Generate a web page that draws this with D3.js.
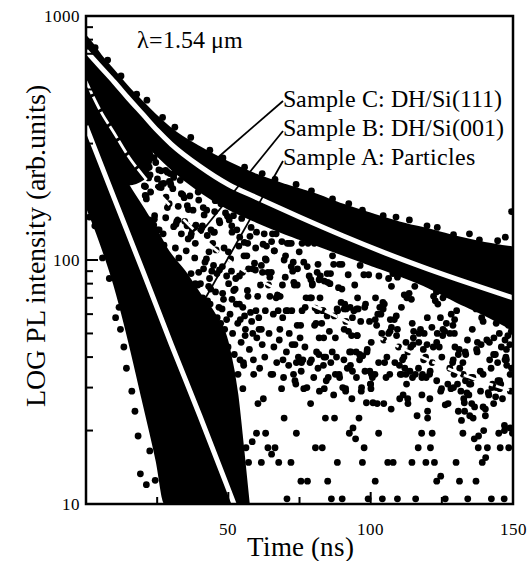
<!DOCTYPE html>
<html>
<head>
<meta charset="utf-8">
<script src="https://cdn.jsdelivr.net/npm/d3@7"></script>
<style>
  @font-face {
    font-family: "PlotSerif";
    src: local("Liberation Serif"), local("LiberationSerif-Regular"), local("LiberationSerif"),
         local("DejaVu Serif"), local("DejaVuSerif"), local("Times New Roman");
  }
  body { margin: 0; background: #fff; }
  svg text { font-family: "PlotSerif", "Liberation Serif", "DejaVu Serif", serif; }
</style>
</head>
<body>
<svg></svg>
<script>
// ---- data (time in ns, PL intensity in arb. units) ----

// Sample C: dense band of points (upper / lower edge of the cloud)
const cTime = [0, 2, 5, 10, 15, 20, 25, 30, 40, 50, 60, 70, 80, 90, 100, 110, 120, 130, 140, 150];
const cHigh = [820, 770, 690, 590, 505, 440, 385, 342, 288, 250, 222, 202, 186, 168, 154, 142, 133, 124, 117, 112];
const cLow  = [560, 540, 500, 430, 365, 310, 270, 238, 192, 163, 144, 129, 117, 106, 96, 87, 78, 68, 60, 52];
// loose points poking out of the top of the C cloud
const cDots = [[3.2,742],[7.6,660],[12.3,568],[17.8,478],[21.4,452],[26.9,384],[31.2,350],[36.8,318],[43.5,282],
  [48.1,262],[55.7,240],[61.9,226],[66.4,214],[73.8,204],[79.2,192],[86.6,178],[92.3,170],[97.1,160],
  [104.4,152],[108.9,150],[113.6,146],[119.8,138],[123.4,136],[129.1,127],[134.7,128],[138.2,121],
  [144.6,120],[147.3,124],[149.5,158]];

// Sample B: dense part at short times, then scattered points
const bTime = [0, 5, 10, 15, 20, 23];
const bHigh = [560, 500, 430, 365, 310, 275];
const bLow  = [300, 260, 230, 205, 215, 260];
const bDots = [
  [15.2,278],[15.9,183],[16.2,312],[16.8,165],[17.2,224],[17.8,230],[18.0,328],[18.1,305],[18.5,318],[18.9,295],[19.5,241],[20.0,335],
  [20.5,268],[20.8,184],[20.9,200],[21.2,178],[21.3,236],[22.0,217],[22.2,240],[22.7,190],[23.4,262],[24.0,147],[24.1,152],[24.5,251],
  [25.1,215],[25.4,199],[25.7,133],[26.4,232],[26.5,205],[27.1,128],[27.4,115],[28.0,149],[28.1,181],[28.6,164],[29.2,170],[29.5,226],
  [29.8,203],[29.9,96],[30.5,196],[30.8,218],[31.0,82],[31.4,112],[31.6,140],[32.3,146],[33.1,212],[33.5,187],[34.3,86],[34.5,180],
  [34.6,81],[35.2,109],[35.6,167],[35.9,122],[36.5,183],[37.0,128],[37.6,160],[38.2,136],[38.4,117],[38.9,70],[39.4,190],[39.6,176],
  [39.7,67],[40.2,80],[40.3,132],[40.9,138],[41.3,92],[41.8,98],[42.4,160],[42.6,126],[43.1,78],[43.4,84],[43.8,76],[44.2,90],
  [44.5,117],[44.8,95],[45.1,130],[45.4,175],[46.0,88],[46.7,64],[46.8,145],[47.4,170],[47.9,94],[48.3,69],[49.0,156],[49.4,57],
  [49.7,151],[50.1,80],[50.3,146],[50.8,101],[51.2,138],[51.3,69],[51.8,152],[52.4,76],[52.6,84],[53.0,133],[53.7,114],[53.9,66],
  [54.2,57],[54.7,148],[55.0,89],[55.6,118],[55.7,59],[55.9,49],[56.5,104],[56.9,71],[57.1,92],[57.6,125],[58.0,136],[58.6,50],
  [59.2,97],[59.7,62],[59.9,130],
  [60.3,71],[60.8,52],[61.3,79],[61.6,52],[62.0,89],[62.6,128],[63.0,62],[63.3,100],[63.9,89],[64.6,71],[65.1,89],[65.2,119],
  [65.5,128],[66.2,109],[66.8,128],[67.3,71],[67.5,62],[68.2,71],[68.8,119],[69.0,79],[69.6,100],[70.3,62],
  [70.7,117],[70.8,62],[71.4,117],[72.1,117],[72.3,62],[72.8,98],[73.2,79],[73.4,45],[73.9,38],[74.2,79],[74.9,108],
  [75.4,54],[75.7,38],[75.9,117],[76.5,98],[77.3,70],[78.0,117],[78.7,70],[79.2,70],[79.5,79],[80.2,117],[80.3,54],
  [80.8,55],[81.3,62],[81.5,96],[81.9,48],[82.2,70],[82.8,55],[83.1,62],[83.5,48],[83.6,40],[84.2,40],[84.7,88],
  [85.1,33],[85.7,80],[85.9,88],[86.6,104],[87.0,96],[87.6,48],[88.0,40],[88.4,62],[89.0,96],[89.1,33],[89.9,96],
  [90.7,63],[90.9,66],[91.2,29],[91.4,63],[92.1,87],[92.6,42],[93.1,42],[93.3,49],[93.6,35],[94.4,79],[94.9,42],
  [95.1,63],[95.3,49],[95.6,63],[96.3,95],[96.5,56],[96.7,29],[97.6,87],[98.0,35],[98.7,42],[99.3,87],[99.6,56],
  [100.0,31],[100.6,33],[100.8,26],[101.6,57],[102.1,54],[102.5,60],[102.9,86],[103.2,64],[103.9,50],[104.6,47],[104.8,66],
  [104.9,38],[105.7,40],[106.3,84],[106.8,51],[107.3,78],[107.8,88],[108.3,57],[109.1,49],[109.4,85],[109.8,44],[110.2,27],
  [110.8,64],[111.4,28],[111.8,72],[112.4,34],[112.7,70],[113.0,27],[113.5,73],[113.8,35],[114.3,69],[114.9,45],[115.1,51],
  [115.5,78],[116.3,23],[116.9,46],[117.5,52],[118.0,33],[118.6,39],[118.8,50],[119.3,40],[119.9,58],[120.0,24],[120.7,34],
  [120.9,35],[121.5,53],[122.1,71],[122.7,68],[123.1,74],[123.2,46],[123.6,66],[124.1,44],[124.5,58],[125.0,40],[125.4,70],
  [126.0,51],[126.6,55],[127.3,72],[127.8,50],[128.3,60],[128.9,54],[129.1,30],[129.5,57],[130.2,62],[130.5,31],[130.8,41],
  [131.3,36],[131.9,22],[132.4,38],[132.7,27],[133.0,24],[133.3,32],[133.4,41],[134.0,47],[134.5,28],[135.2,31],[135.7,52],
  [135.9,33],[136.4,18.5],[137.0,63],[137.4,42],[137.9,19],[138.5,35],[139.0,58],[139.5,56],[139.7,20],[140.3,23],[140.8,47],
  [141.5,28],[141.7,46],[142.3,36],[142.6,30],[143.3,48],[143.8,41],[144.1,55],[144.7,32],[145.2,50],[145.5,17],[145.9,44],
  [146.3,27],[147.0,20],[147.2,47],[147.5,40],[147.7,43],[148.2,49],[148.4,54],[148.9,45],[149.1,29],[149.4,51],[149.7,57]];
// more B points close to its fitted curve
const bNear = [
  [19.9,279],[20.5,201],[21.1,183],[22.1,146],[22.5,223],[23.8,139],[23.9,263],[25.1,133],[25.6,234],[26.4,198],
  [27.3,206],[28.0,233],[28.6,229],[29.3,210],[29.6,208],[30.8,137],[31.1,227],[31.9,144],[32.4,166],[33.5,128],
  [34.0,185],[34.7,144],[35.5,138],[36.0,161],[36.8,125],[37.3,134],[38.2,102],[38.6,139],[39.6,89],[40.6,135],
  [41.2,164],[41.5,153],[42.3,101],[43.2,108],[43.9,133],[44.8,130],[45.2,158],[45.7,110],[46.9,91],[47.0,142],
  [48.0,73],[48.5,112],[49.4,86],[50.0,108],[51.1,90],[51.3,130],[51.9,75],[52.8,66],[53.9,86],[54.0,124],
  [55.1,64],[55.5,104],[56.7,75],[56.8,117],[57.8,61],[58.5,92],[59.5,91],[59.6,112],[60.7,58],[61.6,95],
  [62.2,116],[63.0,101],[63.4,114],[64.1,79],[64.6,85],[65.8,60],[66.1,109],[66.8,70],[67.3,72],[68.1,52],
  [69.1,58],[70.0,85],[70.1,104],[71.4,50],[72.1,94],[72.6,90],[73.0,81],[74.2,54],[74.3,92],[75.2,48],
  [75.9,62],[77.0,64],[77.7,94],[78.4,86],[79.0,83],[79.5,80],[80.5,63.5],[81.2,89],[81.9,83],[82.3,86],
  [83.3,62],[83.7,82],[84.7,59],[84.9,81],[85.5,51],[86.5,42],[87.2,59],[88.2,63],[88.7,77],[89.6,67],
  [89.9,76],[90.7,52],[91.3,56],[92.2,51],[92.8,64],[93.6,58],[94.1,62],[95.2,49],[95.4,70],[96.1,41],
  [97.2,40.5],[97.9,64],[98.2,66],[98.8,43],[99.7,35],[100.2,46],[101.5,34],[101.7,70],[102.8,38],[103.6,60],
  [104.3,67],[104.4,63],[105.4,33],[106.3,50],[106.9,57],[107.3,53],[108.5,38],[109.0,59],[109.4,52],[110.1,37],
  [110.9,34],[111.7,40],[112.4,46],[113.1,42],[114.1,44],[114.6,55],[115.0,48],[115.7,34],[116.8,36],[117.0,50],
  [118.0,28],[118.5,43],[119.5,33],[119.8,45],[120.8,27],[121.6,38],[122.0,44],[123.2,32],[123.4,50],[124.6,29],
  [125.3,49],[125.4,52],[126.2,25.5],[127.1,31],[127.8,36],[128.8,38],[129.4,50],[129.6,44],[130.8,24],[131.1,43],
  [131.7,29],[132.9,26],[133.2,42],[133.8,28.5],[134.8,23],[135.3,33],[136.5,25],[137.2,43],[137.5,46],[138.6,29],
  [138.8,45],[139.5,25],[140.3,24.5],[141.3,28.6],[141.8,39],[142.8,31],[143.2,41],[144.1,30],[144.6,38],[145.3,32],
  [145.7,31],[147.0,21],[147.7,39],[147.8,37],[149.0,20.5],[149.5,36]];
// B points in the lower half of its spread
const bLowDots = [
  [35.8,72],[36.9,88],[38.1,64],[39.3,79],[40.1,58],[41.0,70],[41.9,62],[42.9,54],[43.6,66],[44.7,50],
  [45.5,74],[46.1,58],[47.2,48],[47.8,63],[48.7,52],[49.9,44],[50.6,60],[51.5,50],[52.1,41],[53.3,55],
  [54.5,46],[55.3,38],[56.0,52],[57.4,43],[58.2,56],[58.8,39],[60.0,48],[61.0,36],[61.9,45],[62.8,40],
  [64.3,50],[65.0,34],[66.0,44],[67.0,38],[67.9,47],[69.4,33],[70.4,42],[71.2,37],[72.4,45],[73.7,31],
  [74.6,40],[75.6,35],[76.9,44],[77.6,30],[78.7,38],[80.0,33],[81.0,42],[82.0,29],[83.4,37],[84.4,32],
  [86.0,38],[87.0,28],[88.9,34],[90.2,30],[91.8,36],[93.4,27],[95.0,33],[96.8,30],[98.5,26],[99.9,31]];

// Sample A: dense cloud, then the noisy tail near the floor
const aTime = [0, 5, 10, 15, 20, 25, 28, 35, 40, 45, 50, 53, 55, 57];
const aHigh = [430, 330, 255, 200, 162, 130, 112, 88, 72, 60, 44, 28, 17, 10];
const aLow  = [170, 120, 80, 48, 27, 15, 10, 10, 10, 10, 10, 10, 10, 10];
const aDots = [[1.2,150],[3.1,138],[5.8,102],[8.2,84],[10.4,58],[11.6,64],[12.1,52],[13.3,44],[14.2,36],[16.1,29],
  [17.2,24],[18.3,19],[19.1,13.3],[21.2,12],[22.4,16.5],[24.3,12.5],[32.6,102],[38.4,80],[42.7,68],[47.3,55],
  [44.5,12.4],[45.0,19.5],[46.3,13],[47.5,22.5],[47.7,39],[48.9,14.8],[49.7,25.8],[50.3,21.5],[51.4,17],[52.5,23.5],
  [53.4,34],[54.1,39],[55.1,29.7],[55.4,37],[56.2,17],[57.1,14.8],[58.4,18],[58.9,34],[59.9,19.5],[60.4,25.8],
  [61.6,14.8],[62.3,27],[63.1,19.5],[63.9,17],[65.2,16],[65.6,34],[66.4,17],[67.7,14.8],[68.7,29.7],[69.2,39],
  [69.6,22.5],[70.6,10.5],[72.0,14.8],[72.9,34],[73.4,32],[73.9,19.5],[75.5,12.4],[76.2,39],[76.5,29.7],[77.8,12.4],
  [78.9,25.8],[79.2,39],[80.6,17],[81.5,36],[81.8,41],[83.0,17],[83.7,29.7],[84.1,22.5],[84.9,12.4],[86.2,10.5],
  [87.3,22.5],[87.6,34],[88.3,14.8],[90.0,10.5],[90.6,39],[91.2,29.7],[92.5,19.5],[92.9,37],[93.8,20.5],[94.7,18.5],
  [95.9,22.5],[96.1,39],[97.1,14.8],[97.7,17],[99.1,10.5],[100.1,29.7],[100.3,34],[101.6,12.4],[102.3,25.8],[102.8,19.5],
  [104.1,10.5],[104.6,25.8],[106.0,14.8],[106.7,34],[107.2,24.5],[107.9,14.8],[109.4,10.5],[110.4,34],[111.2,39],[112.0,36],
  [112.6,31],[113.1,25.8],[114.5,14.8],[114.7,33],[115.8,10.5],[116.7,17],[117.9,19.5],[118.2,34],[119.4,14.8],[120.0,22.5],
  [121.0,17],[121.6,19.5],[122.4,14.8],[123.2,12.4],[124.6,13],[124.9,29.7],[126.2,10.5],[127.2,25.8],[128.2,29.7],[129.0,39],
  [129.3,34],[130.0,14.8],[131.2,12.4],[132.4,19.5],[132.5,34],[134.1,10.5],[134.7,31],[135.5,25.8],[136.0,22.5],[137.0,12.4],
  [137.8,17],[139.2,14.8],[139.5,34],[140.4,15.5],[141.0,17],[142.4,10.5],[143.2,25.8],[143.9,27.5],[145.0,19.5],[145.3,29.7],
  [146.9,10.5],[147.2,39],[148.5,17],[149.0,34],[149.8,19.5]];

// fitted decay curves (white lines)
const cFitT = [0, 5, 10, 15, 20, 25, 30, 40, 50, 60, 75, 90, 105, 120, 135, 150];
const cFitV = [720, 620, 535, 458, 395, 340, 298, 242, 204, 180, 150, 126, 107, 92, 80, 70];
const bFitT = [0, 5, 10, 15, 20, 30, 40, 50, 60, 70, 85, 100, 120, 135, 150];
const bFitV = [540, 410, 330, 265, 222, 165, 126, 100, 84, 73, 61, 50, 39, 33, 29];
const aFitT = [0, 10, 20, 30, 40, 50, 52];
const aFitV = [354, 178, 90, 45, 23, 11.5, 10];

const xMajor = [50, 100, 150];
const xMinor = [25, 75, 125];
const yMajor = [10, 100, 1000];

const labels = ['Sample C: DH/Si(111)', 'Sample B: DH/Si(001)', 'Sample A: Particles'];

// ---- layout ----
const width = 532, height = 561;
const svg = d3.select('svg')
    .attr('width', width)
    .attr('height', height);

const x = d3.scaleLinear().domain([0, 150]).range([86, 513]);
const y = d3.scaleLog().domain([10, 1000]).range([504, 16]);

svg.append('defs').append('clipPath').attr('id', 'plot')
  .append('rect')
    .attr('x', x(0)).attr('y', y(1000))
    .attr('width', x(150) - x(0)).attr('height', y(10) - y(1000));

const g = svg.append('g').attr('clip-path', 'url(#plot)');

const zip = (t, lo, hi) => t.map((d, i) => ({ t: d, lo: lo[i], hi: hi[i] }));
const band = d3.area()
    .x(d => x(d.t))
    .y0(d => y(d.lo))
    .y1(d => y(d.hi))
    .curve(d3.curveMonotoneX);

// dense parts of the three clouds
[zip(cTime, cLow, cHigh), zip(bTime, bLow, bHigh), zip(aTime, aLow, aHigh)].forEach(b => {
  g.append('path')
    .attr('d', band(b))
    .attr('fill', '#000')
    .attr('stroke', '#000')
    .attr('stroke-width', 3)
    .attr('stroke-linejoin', 'round');
});

// scattered points
g.selectAll('circle.pt')
  .data(cDots.concat(bDots, bNear, bLowDots, aDots))
  .enter().append('circle')
    .attr('class', 'pt')
    .attr('cx', d => x(d[0]))
    .attr('cy', d => y(d[1]))
    .attr('r', 3.4)
    .attr('fill', '#000');

// fitted lines (B's fit is thinner and broken up by the points)
const fitLine = d3.line()
    .x(d => x(d[0]))
    .y(d => y(d[1]))
    .curve(d3.curveMonotoneX);

[[cFitT, cFitV, 5, null], [bFitT, bFitV, 2.8, '14,3'], [aFitT, aFitV, 5, null]].forEach(([t, v, w, dash]) => {
  g.append('path')
    .attr('d', fitLine(t.map((d, i) => [d, v[i]])))
    .attr('fill', 'none')
    .attr('stroke', '#fff')
    .attr('stroke-width', w)
    .attr('stroke-dasharray', dash);
});

// leader lines from labels to curves
const leaders = [[283, 101, 215, 160], [283, 131, 203, 230], [283, 161, 197, 313]];
svg.selectAll('line.leader')
  .data(leaders)
  .enter().append('line')
    .attr('x1', d => d[0]).attr('y1', d => d[1])
    .attr('x2', d => d[2]).attr('y2', d => d[3])
    .attr('stroke', '#000')
    .attr('stroke-width', 1.8);

svg.selectAll('text.lab')
  .data(labels)
  .enter().append('text')
    .attr('x', 283)
    .attr('y', (d, i) => 107 + i * 29)
    .attr('font-size', 24)
    .text(d => d);

svg.append('text')
    .attr('x', 137).attr('y', 48)
    .attr('font-size', 24)
    .text('λ=1.54 μm');

// ---- axes ----
const yTicks = y.ticks();
svg.selectAll('line.ytick')
  .data(yTicks)
  .enter().append('line')
    .attr('x1', x(0))
    .attr('x2', d => x(0) + (yMajor.includes(d) ? 12 : 7))
    .attr('y1', d => y(d)).attr('y2', d => y(d))
    .attr('stroke', '#000')
    .attr('stroke-width', 2);

svg.selectAll('text.ylab')
  .data(yMajor)
  .enter().append('text')
    .attr('x', x(0) - 6)
    .attr('y', d => y(d) + 6)
    .attr('text-anchor', 'end')
    .attr('font-size', 17)
    .text(d => d);

svg.selectAll('line.xtick')
  .data(xMajor.concat(xMinor))
  .enter().append('line')
    .attr('x1', d => x(d)).attr('x2', d => x(d))
    .attr('y1', y(10))
    .attr('y2', d => y(10) - (xMajor.includes(d) ? 12 : 7))
    .attr('stroke', '#000')
    .attr('stroke-width', 2);

svg.selectAll('text.xlab')
  .data(xMajor)
  .enter().append('text')
    .attr('x', d => x(d))
    .attr('y', 535)
    .attr('text-anchor', 'middle')
    .attr('font-size', 17)
    .text(d => d);

svg.append('rect')
    .attr('x', x(0)).attr('y', y(1000))
    .attr('width', x(150) - x(0)).attr('height', y(10) - y(1000))
    .attr('fill', 'none')
    .attr('stroke', '#000')
    .attr('stroke-width', 2.5);

svg.append('text')
    .attr('x', 300).attr('y', 556)
    .attr('text-anchor', 'middle')
    .attr('font-size', 27)
    .text('Time (ns)');

svg.append('text')
    .attr('transform', 'translate(45,246) rotate(-90)')
    .attr('text-anchor', 'middle')
    .attr('font-size', 28)
    .text('LOG PL intensity (arb.units)');
</script>
</body>
</html>
